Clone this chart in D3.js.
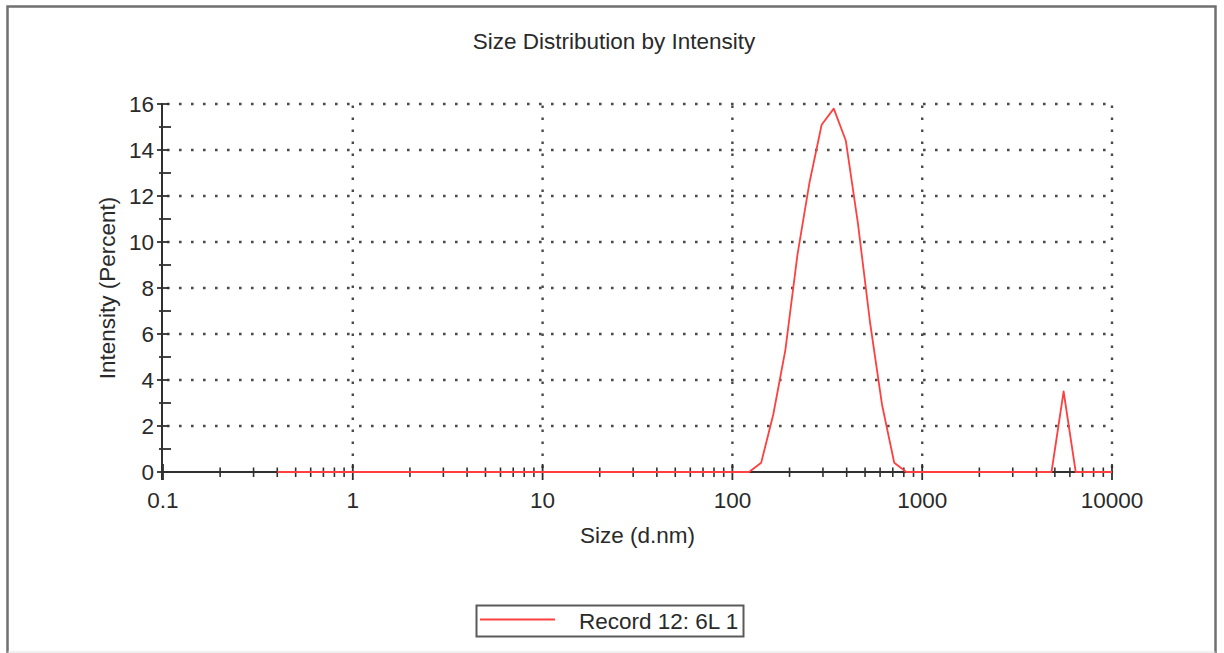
<!DOCTYPE html>
<html>
<head>
<meta charset="utf-8">
<script src="https://cdn.jsdelivr.net/npm/d3@7"></script>
<style>
  html, body { margin: 0; padding: 0; background: #fff; }
  svg { display: block; }
  text { font-family: "Liberation Sans", Arial, sans-serif; fill: #2a2a2a; }
</style>
</head>
<body>
<svg id="chart" width="1224" height="653"></svg>
<script>
// ---- data ----
const chartTitle = "Size Distribution by Intensity";
const xAxisTitle = "Size (d.nm)";
const yAxisTitle = "Intensity (Percent)";
const seriesName = "Record 12: 6L 1";

const sizes = [0.4, 0.4632, 0.5365, 0.6213, 0.7195, 0.8332, 0.9649, 1.117, 1.294, 1.499,
  1.736, 2.01, 2.328, 2.696, 3.122, 3.615, 4.187, 4.849, 5.615, 6.503,
  7.531, 8.721, 10.1, 11.7, 13.54, 15.69, 18.17, 21.04, 24.36, 28.21,
  32.67, 37.84, 43.82, 50.75, 58.77, 68.06, 78.82, 91.28, 105.7, 122.4,
  141.8, 164.2, 190.1, 220.2, 255.0, 295.3, 342.0, 396.1, 458.7, 531.2,
  615.1, 712.4, 825.0, 955.4, 1106, 1281, 1484, 1718, 1990, 2305,
  2669, 3091, 3580, 4145, 4801, 5560, 6439, 7456, 8635, 10000];

const intensities = [0, 0, 0, 0, 0, 0, 0, 0, 0, 0,
  0, 0, 0, 0, 0, 0, 0, 0, 0, 0,
  0, 0, 0, 0, 0, 0, 0, 0, 0, 0,
  0, 0, 0, 0, 0, 0, 0, 0, 0, 0,
  0.4, 2.5, 5.3, 9.45, 12.6, 15.1, 15.8, 14.4, 10.8, 6.5,
  2.9, 0.4, 0, 0, 0, 0, 0, 0, 0, 0,
  0, 0, 0, 0, 0, 3.5, 0, 0, 0, 0];

const xTickValues = [0.1, 1, 10, 100, 1000, 10000];
const xTickLabels = ["0.1", "1", "10", "100", "1000", "10000"];
const yTickValues = [0, 2, 4, 6, 8, 10, 12, 14, 16];
const yMinorValues = [1, 3, 5, 7, 9, 11, 13, 15];

// ---- layout ----
const svg = d3.select("#chart");
const pLeft = 163, pRight = 1112, pTop = 104, pBottom = 472;
const fs = "22.5px";

const x = d3.scaleLog().domain([0.1, 10000]).range([pLeft, pRight]);
const y = d3.scaleLinear().domain([0, 16]).range([pBottom, pTop]);

// outer frame
svg.append("rect")
  .attr("x", 7.5).attr("y", 6.5).attr("width", 1208).attr("height", 660)
  .attr("fill", "none").attr("stroke", "#707070").attr("stroke-width", 2.5);
svg.append("line")
  .attr("x1", 7.5).attr("x2", 1215.5).attr("y1", 652).attr("y2", 652)
  .attr("stroke", "#e2e2e2").attr("stroke-width", 1);

// title
svg.append("text")
  .attr("x", 614).attr("y", 49)
  .attr("text-anchor", "middle")
  .style("font-size", fs)
  .text(chartTitle);

// gridlines (dotted)
const grid = svg.append("g")
  .attr("stroke", "#4a4a4a").attr("stroke-width", 2.4)
  .attr("stroke-dasharray", "2.6,9.4").attr("fill", "none");
yTickValues.filter(v => v > 0).forEach(v => {
  grid.append("line")
    .attr("x1", pLeft + 4).attr("x2", pRight)
    .attr("y1", y(v)).attr("y2", y(v));
});
xTickValues.filter(v => v > 0.1).forEach(v => {
  grid.append("line")
    .attr("x1", x(v)).attr("x2", x(v))
    .attr("y1", pBottom - 4).attr("y2", pTop);
});

// x axis
const xMinor = [];
for (let d = 0.1; d < 10000; d *= 10) {
  for (let k = 2; k <= 9; k++) xMinor.push(+(d * k).toPrecision(3));
}
const xAxisG = svg.append("g");
xAxisG.append("line")
  .attr("x1", pLeft - 2).attr("x2", pRight + 1)
  .attr("y1", pBottom).attr("y2", pBottom)
  .attr("stroke", "#303030").attr("stroke-width", 2);
xAxisG.selectAll("line.minor").data(xMinor).join("line")
  .attr("class", "minor")
  .attr("x1", d => x(d)).attr("x2", d => x(d))
  .attr("y1", pBottom - 4.5).attr("y2", pBottom + 5)
  .attr("stroke", "#303030").attr("stroke-width", 1.6);
xAxisG.selectAll("line.major").data(xTickValues).join("line")
  .attr("class", "major")
  .attr("x1", d => x(d)).attr("x2", d => x(d))
  .attr("y1", pBottom - 8).attr("y2", pBottom + 8)
  .attr("stroke", "#303030").attr("stroke-width", 1.8);
xAxisG.selectAll("text").data(xTickValues).join("text")
  .attr("x", d => x(d)).attr("y", pBottom + 36)
  .attr("text-anchor", "middle")
  .style("font-size", fs)
  .text((d, i) => xTickLabels[i]);

svg.append("text")
  .attr("x", (pLeft + pRight) / 2).attr("y", 543)
  .attr("text-anchor", "middle")
  .style("font-size", fs)
  .text(xAxisTitle);

// y axis
const yAxisG = svg.append("g");
yAxisG.append("line")
  .attr("x1", pLeft - 1).attr("x2", pLeft - 1)
  .attr("y1", pTop - 1).attr("y2", pBottom + 8)
  .attr("stroke", "#303030").attr("stroke-width", 2);
yAxisG.selectAll("line.major").data(yTickValues).join("line")
  .attr("class", "major")
  .attr("x1", pLeft - 6).attr("x2", pLeft + 6)
  .attr("y1", d => y(d)).attr("y2", d => y(d))
  .attr("stroke", "#303030").attr("stroke-width", 1.8);
yAxisG.selectAll("line.minor").data(yMinorValues).join("line")
  .attr("class", "minor")
  .attr("x1", pLeft - 4).attr("x2", pLeft + 8)
  .attr("y1", d => y(d)).attr("y2", d => y(d))
  .attr("stroke", "#303030").attr("stroke-width", 1.8);
yAxisG.selectAll("text").data(yTickValues).join("text")
  .attr("x", pLeft - 9).attr("y", d => y(d))
  .attr("dy", "0.36em")
  .attr("text-anchor", "end")
  .style("font-size", fs)
  .text(d => d);

svg.append("text")
  .attr("transform", `translate(115, ${(pTop + pBottom) / 2}) rotate(-90)`)
  .attr("text-anchor", "middle")
  .style("font-size", fs)
  .text(yAxisTitle);

// series line
const lineGen = d3.line()
  .x(d => x(d[0]))
  .y(d => y(d[1]));
svg.append("path")
  .datum(sizes.map((s, i) => [s, intensities[i]]))
  .attr("d", lineGen)
  .attr("fill", "none")
  .attr("stroke", "#ff4040")
  .attr("stroke-width", 1.8)
  .attr("stroke-linejoin", "round");

// legend
const lg = svg.append("g");
lg.append("rect")
  .attr("x", 476.5).attr("y", 605.5).attr("width", 267).attr("height", 31)
  .attr("fill", "#fff").attr("stroke", "#5a5a5a").attr("stroke-width", 2);
lg.append("line")
  .attr("x1", 480).attr("x2", 555).attr("y1", 619.5).attr("y2", 619.5)
  .attr("stroke", "#ff4040").attr("stroke-width", 1.8);
lg.append("text")
  .attr("x", 579).attr("y", 628.5)
  .style("font-size", fs)
  .text(seriesName);
</script>
</body>
</html>
